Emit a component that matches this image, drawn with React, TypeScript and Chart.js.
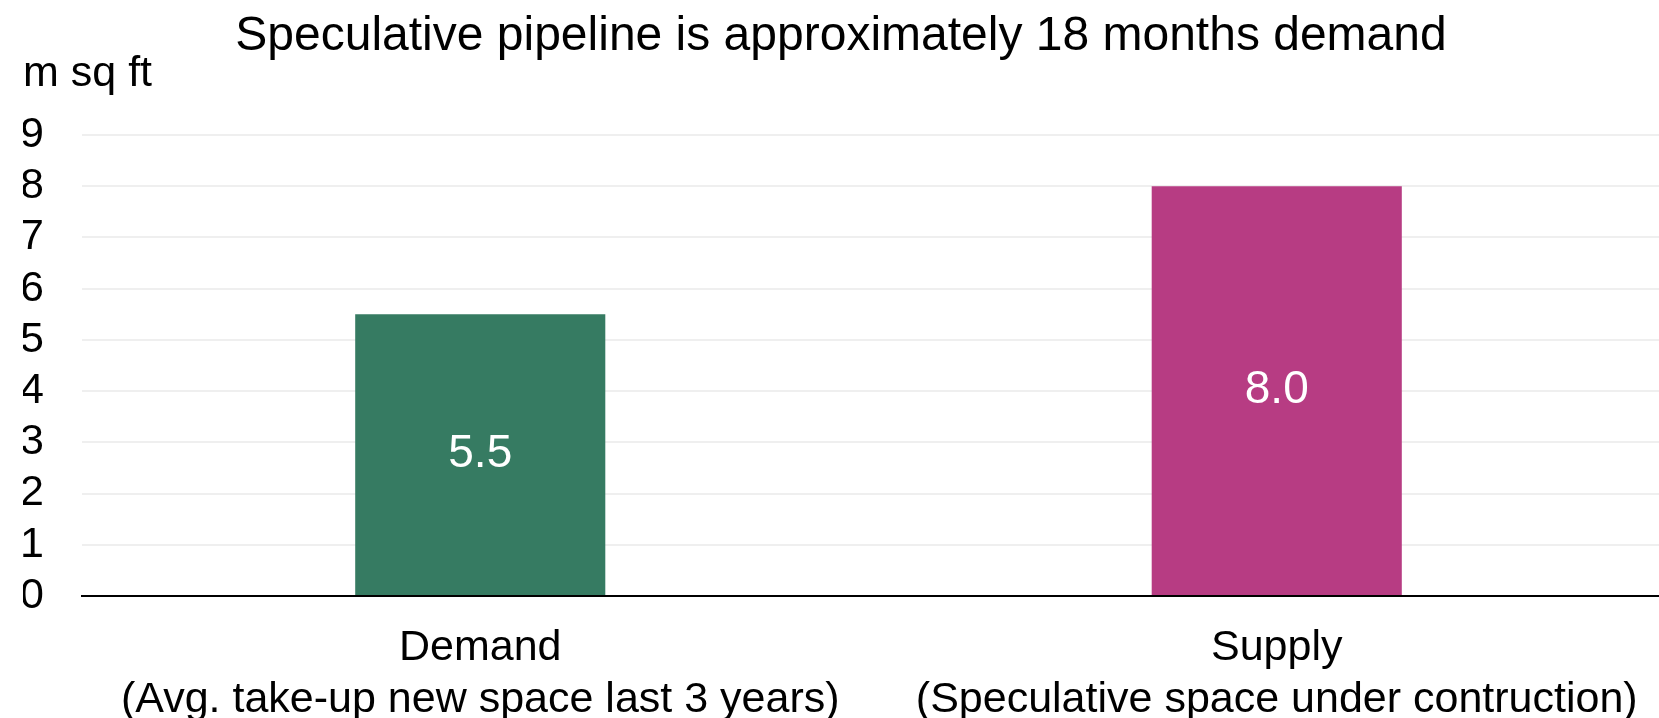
import React, { useEffect, useRef } from "react";
import { Chart, registerables } from "chart.js";

Chart.register(...registerables);

const titleText = "Speculative pipeline is approximately 18 months demand";
const unitText = "m sq ft";
const categories: string[][] = [
  ["Demand", "(Avg. take-up new space last 3 years)"],
  ["Supply", "(Speculative space under contruction)"],
];
const values: number[] = [5.5, 8.0];
const barColors: string[] = ["#367B62", "#B73C83"];
const yTicks: number[] = [0, 1, 2, 3, 4, 5, 6, 7, 8, 9];

const FONT = "'Liberation Sans', Arial, sans-serif";
const PLOT_RIGHT_EXTRA = 16;

const valueLabels = {
  id: "valueLabels",
  afterDatasetsDraw(chart: any) {
    const ctx = chart.ctx;
    const meta = chart.getDatasetMeta(0);
    ctx.save();
    ctx.fillStyle = "#FFFFFF";
    ctx.font = `46px ${FONT}`;
    ctx.textAlign = "center";
    ctx.textBaseline = "middle";
    meta.data.forEach((bar: any, i: number) => {
      const v = chart.data.datasets[0].data[i] as number;
      const cy = (bar.y + bar.base) / 2;
      ctx.fillText(v.toFixed(1), bar.x, cy);
    });
    ctx.restore();
  },
};

// the plot area of the original runs slightly past the right edge of the picture
const extendPlot = {
  id: "extendPlot",
  afterLayout(chart: any) {
    const s = chart.scales.x;
    s.right += PLOT_RIGHT_EXTRA;
    s.width += PLOT_RIGHT_EXTRA;
    s.configure();
    chart.chartArea.right += PLOT_RIGHT_EXTRA;
    chart.chartArea.width += PLOT_RIGHT_EXTRA;
  },
};

export default function App() {
  const ref = useRef<HTMLCanvasElement | null>(null);
  useEffect(() => {
    if (!ref.current) return;
    const chart = new Chart(ref.current, {
      type: "bar",
      data: {
        labels: categories,
        datasets: [
          {
            data: values,
            backgroundColor: barColors,
            borderWidth: 0,
            categoryPercentage: 1,
            barPercentage: 0.314,
          },
        ],
      },
      options: {
        responsive: false,
        animation: false,
        devicePixelRatio: 1,
        layout: { padding: { left: 23, right: 0, top: 0, bottom: 0 } },
        plugins: {
          legend: { display: false },
          tooltip: { enabled: false },
          title: {
            display: true,
            text: titleText,
            color: "#000000",
            font: { family: FONT, size: 48, weight: "normal", lineHeight: 0.8 },
            padding: { top: 17.2, bottom: 0 },
          },
          subtitle: {
            display: true,
            text: unitText,
            align: "start",
            color: "#000000",
            font: { family: FONT, size: 43, weight: "normal", lineHeight: 0.8 },
            padding: { top: 1.5, bottom: 43.5 },
          },
        },
        scales: {
          x: {
            offset: true,
            grid: { display: false, drawTicks: false },
            border: { display: true, color: "#000000", width: 2 },
            ticks: {
              color: "#000000",
              padding: 27,
              maxRotation: 0,
              autoSkip: false,
              font: { family: FONT, size: 43, lineHeight: 1.19 },
            },
            afterFit: (s: any) => {
              s.height = 122;
            },
          },
          y: {
            min: 0,
            max: 9,
            afterBuildTicks: (s: any) => {
              s.ticks = yTicks.map((v) => ({ value: v }));
            },
            grid: { color: "#EFEFEF", lineWidth: 2, drawTicks: false },
            border: { display: false },
            ticks: {
              color: "#000000",
              padding: 38,
              autoSkip: false,
              font: { family: FONT, size: 43 },
            },
            afterFit: (s: any) => {
              s.width = 59;
            },
          },
        },
      },
      plugins: [extendPlot, valueLabels],
    });
    return () => chart.destroy();
  }, []);
  return (
    <div style={{ position: "absolute", left: 0, top: 0, width: 1659, height: 718, overflow: "hidden", background: "#FFFFFF" }}>
      <canvas ref={ref} width={1659} height={718} style={{ display: "block" }} />
    </div>
  );
}
